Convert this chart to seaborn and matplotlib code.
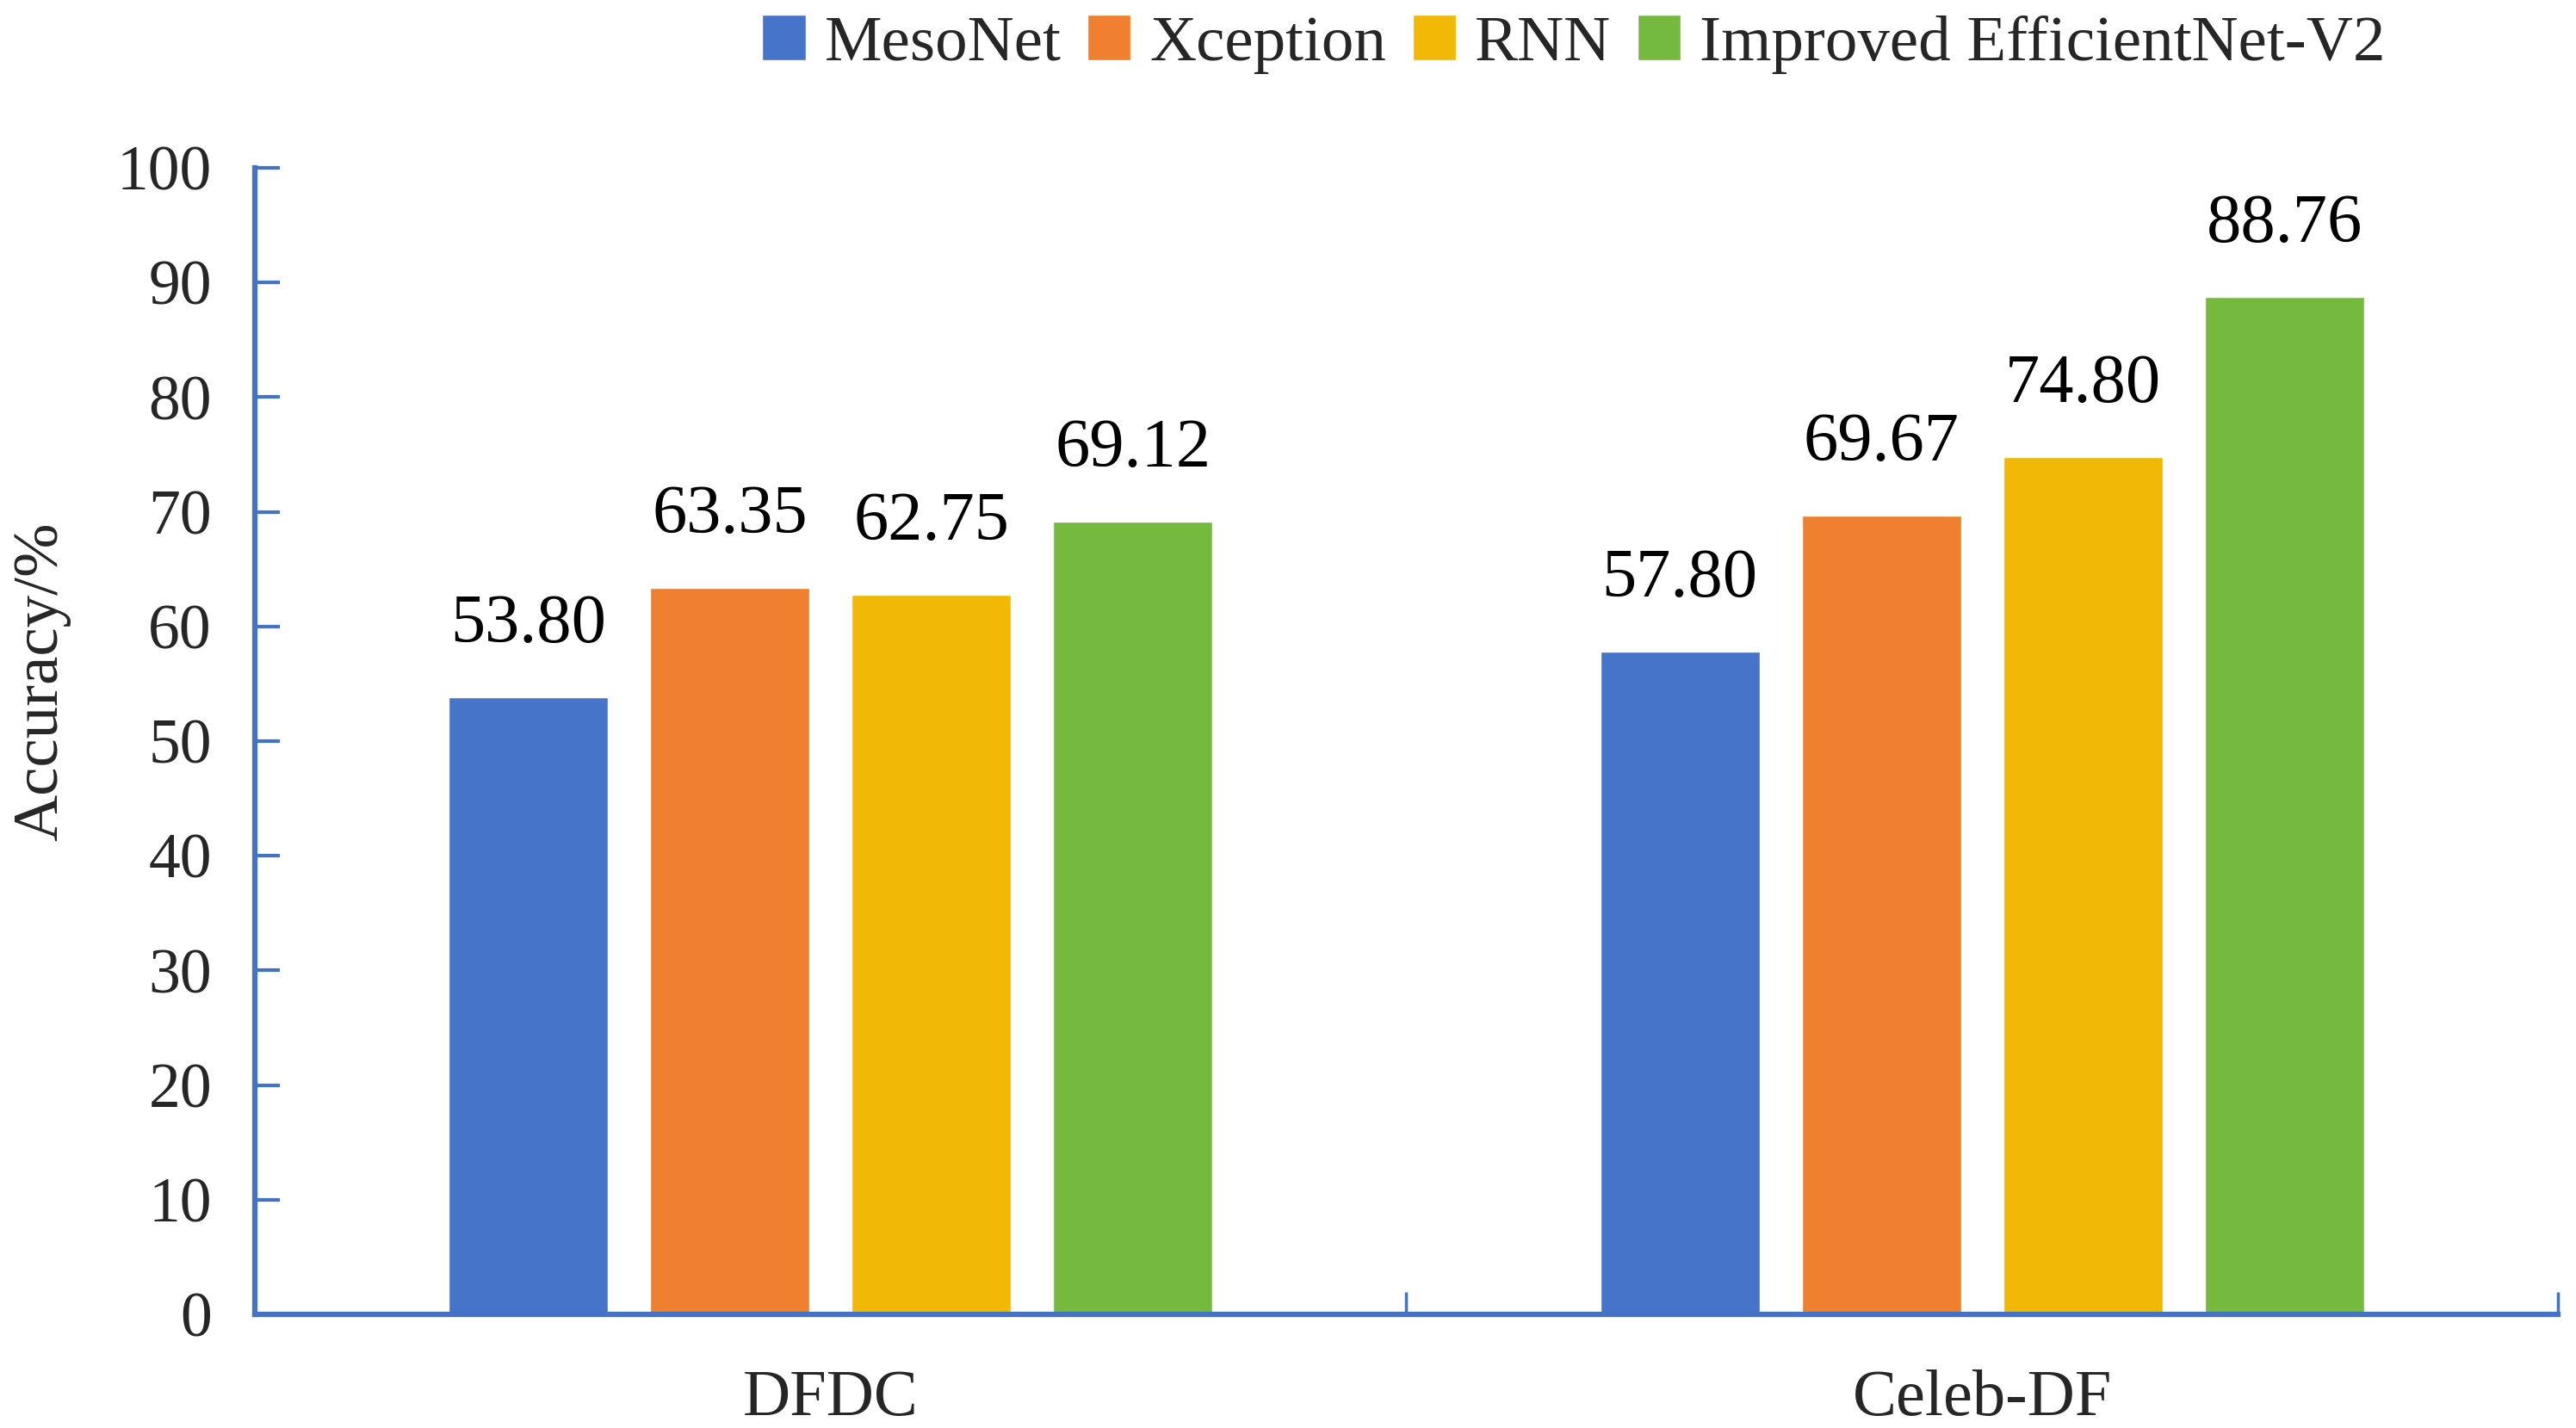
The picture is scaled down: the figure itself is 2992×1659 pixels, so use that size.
import matplotlib
matplotlib.use("Agg")
import matplotlib.pyplot as plt
import seaborn as sns
import pandas as pd

datasets = ["DFDC", "Celeb-DF"]
models = ["MesoNet", "Xception", "RNN", "Improved EfficientNet-V2"]
mesonet = [53.80, 57.80]
xception = [63.35, 69.67]
rnn = [62.75, 74.80]
effnet = [69.12, 88.76]
yticks = [0, 10, 20, 30, 40, 50, 60, 70, 80, 90, 100]
colors = ["#4674C9", "#EE8030", "#F1B805", "#75B93F"]
axis_color = "#4472C4"

rows = []
for m, vals in zip(models, [mesonet, xception, rnn, effnet]):
    for d, v in zip(datasets, vals):
        rows.append({"dataset": d, "model": m, "acc": v})
df = pd.DataFrame(rows)

sns.set_style("white")
plt.rcParams["font.family"] = ["Liberation Serif", "DejaVu Serif"]

fig = plt.figure(figsize=(29.92, 16.59), dpi=100)
ax = fig.add_axes([0.0989, 0.0796, 0.993 - 0.0989, 0.8825 - 0.0796])

sns.barplot(data=df, x="dataset", y="acc", hue="model", order=datasets,
            hue_order=models, palette=colors, saturation=1, width=0.7,
            gap=0.21, ax=ax, legend=True, errorbar=None)

for cont in ax.containers:
    for bar in cont:
        h = bar.get_height()
        ax.annotate(f"{h:.2f}", (bar.get_x() + bar.get_width() / 2, h),
                    xytext=(0, 46), textcoords="offset points",
                    ha="center", va="baseline", fontsize=58, color="black")

ax.set_ylim(0, 100)
ax.set_xlim(-0.5, 1.5)
ax.set_yticks(yticks)
ax.set_yticklabels([str(t) for t in yticks])

for s in ["top", "right"]:
    ax.spines[s].set_visible(False)
for s in ["left", "bottom"]:
    ax.spines[s].set_color(axis_color)
    ax.spines[s].set_linewidth(4.5)

ax.tick_params(axis="y", direction="in", length=21, width=3, color=axis_color,
               labelsize=53, pad=36, left=True)
ax.set_xticks([0, 1])
ax.set_xticklabels(datasets)
ax.tick_params(axis="x", length=0, labelsize=55, pad=46)
ax.set_xticks([-0.5, 0.5, 1.5], minor=True)
ax.tick_params(axis="x", which="minor", direction="in", length=19, width=2.5,
               color=axis_color, bottom=True)

ax.set_xlabel("")
ax.set_ylabel("Accuracy/%", fontsize=54)
ax.yaxis.set_label_coords(-0.0925, 0.552)
ax.yaxis.label.set_va("center")

handles, labels = ax.get_legend_handles_labels()
ax.get_legend().remove()
fig.legend(handles, labels, loc="center", bbox_to_anchor=(0.611, 0.969),
           ncol=4, frameon=False, fontsize=54, handlelength=0.67,
           handleheight=0.7, handletextpad=0.3, columnspacing=0.4)

fig.savefig("out.png", dpi=100)
